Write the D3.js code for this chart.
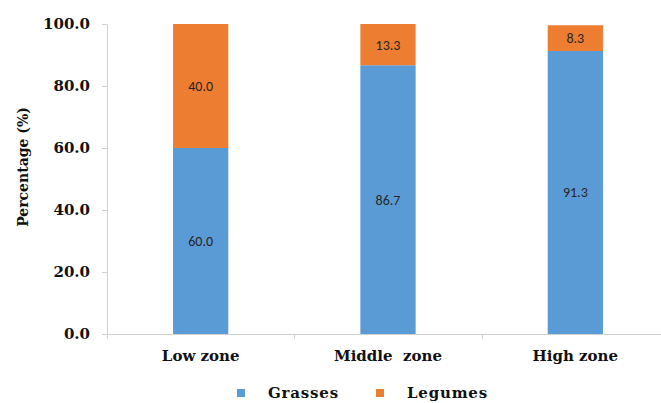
<!DOCTYPE html>
<html><head><meta charset="utf-8">
<script src="https://cdn.jsdelivr.net/npm/d3@7"></script>
<style>body{margin:0;background:#fff}
.sf{font-family:"DejaVu Serif","Liberation Serif",Times,serif;font-weight:bold;fill:#111}
</style>
</head><body>
<svg id="c" width="661" height="403"></svg>
<script>
const categories = ["Low zone", "Middle  zone", "High zone"];
const seriesNames = ["Grasses", "Legumes"];
const grasses = [60.0, 86.7, 91.3];
const legumes = [40.0, 13.3, 8.3];
const yTicks = [0, 20, 40, 60, 80, 100];
const colors = ["#5B9BD5", "#ED7D31"];

const svg = d3.select("#c");
const m = {left:107, top:24, right:669, bottom:334};
const x = d3.scaleBand().domain(categories).range([m.left, m.right]).paddingInner(0.705).paddingOuter(0.3525);
const y = d3.scaleLinear().domain([0,100]).range([m.bottom, m.top]);

const rows = categories.map((c,i)=>({cat:c, Grasses:grasses[i], Legumes:legumes[i]}));
const stack = d3.stack().keys(seriesNames)(rows);

const yAxis = svg.append("g").attr("transform",`translate(${m.left},0)`)
  .call(d3.axisLeft(y).tickValues(yTicks).tickFormat(d3.format(".1f")).tickSize(5).tickPadding(12));
yAxis.attr("font-family",null).attr("font-size",null);
yAxis.select(".domain").attr("stroke","#d0d0d0");
yAxis.selectAll(".tick line").attr("stroke","#d0d0d0");
yAxis.selectAll(".tick text").attr("class","sf").attr("fill",null)
  .style("font-size","15px").style("letter-spacing","0px");

const bands = [m.left].concat(categories.map(c=>x(c)+x.bandwidth()+x.step()*x.paddingInner()/2));
const xAxis = svg.append("g");
xAxis.append("line").attr("x1",m.left-5).attr("x2",661).attr("y1",m.bottom+0.5).attr("y2",m.bottom+0.5).attr("stroke","#d0d0d0");
xAxis.selectAll("line.tk").data(bands).join("line").attr("class","tk")
  .attr("x1",d=>Math.round(d)+0.5).attr("x2",d=>Math.round(d)+0.5).attr("y1",m.bottom).attr("y2",m.bottom+5).attr("stroke","#d0d0d0");
xAxis.selectAll("text").data(categories).join("text").attr("class","sf")
  .attr("x",d=>x(d)+x.bandwidth()/2).attr("y",361).attr("text-anchor","middle")
  .style("font-size","15px").style("letter-spacing","0px")
  .style("white-space","pre").text(d=>d);

stack.forEach((s,si)=>{
  const g = svg.append("g");
  g.selectAll("rect").data(s).join("rect")
    .attr("x",d=>x(d.data.cat)).attr("width",x.bandwidth())
    .attr("y",d=>y(d[1])).attr("height",d=>y(d[0])-y(d[1]))
    .attr("fill",colors[si]);
  g.selectAll("text").data(s).join("text")
    .attr("x",d=>x(d.data.cat)+x.bandwidth()/2)
    .attr("y",d=>y((d[0]+d[1])/2)).attr("dy","0.35em").attr("text-anchor","middle")
    .style("font-family","Carlito, 'Liberation Sans', Arial, sans-serif").style("font-size","14px").attr("fill","#262626")
    .text(d=>(d[1]-d[0]).toFixed(1));
});

svg.append("text").attr("class","sf").attr("transform","translate(28,167) rotate(-90)").attr("text-anchor","middle")
  .style("font-size","14px").style("letter-spacing","0px").text("Percentage (%)");

const lx = [237, 376];
const lg = svg.append("g");
seriesNames.forEach((n,i)=>{
  lg.append("rect").attr("x",lx[i]).attr("y",389).attr("width",8).attr("height",8).attr("fill",colors[i]);
  lg.append("text").attr("class","sf").attr("x",lx[i]+31).attr("y",398)
    .style("font-size","15px").style("letter-spacing","0.8px").text(n);
});
</script>
</body></html>
